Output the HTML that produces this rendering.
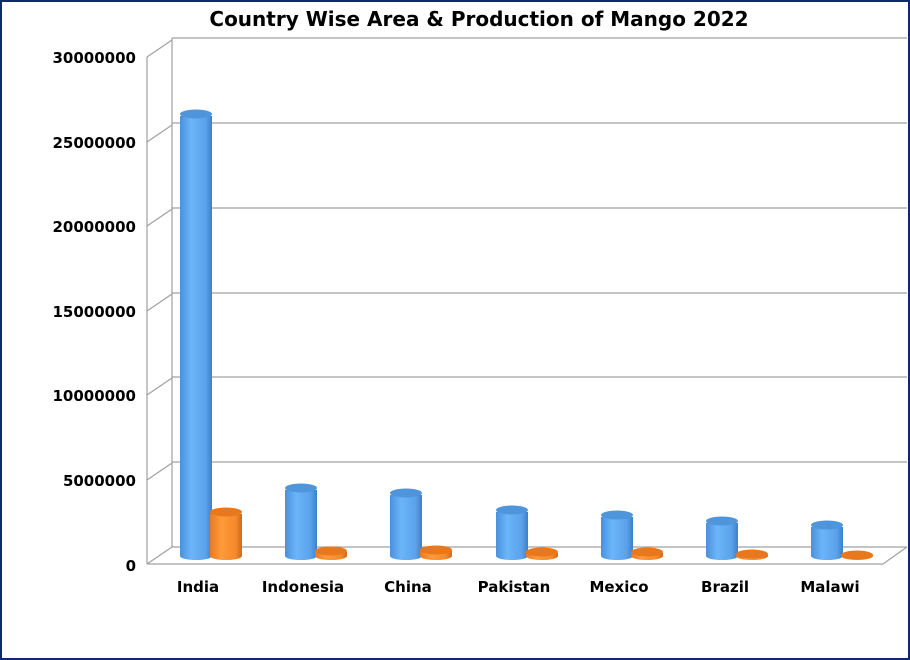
<!DOCTYPE html>
<html><head><style>
body{margin:0;background:#fff}
svg{display:block;font-family:"DejaVu Sans","Liberation Sans",sans-serif}
</style></head><body>
<svg width="910" height="660" viewBox="0 0 910 660">
<defs>
<linearGradient id="b" x1="0" x2="1"><stop offset="0" stop-color="#4a90dc"/><stop offset="0.35" stop-color="#6bb5fa"/><stop offset="0.8" stop-color="#5aa2ea"/><stop offset="1" stop-color="#3d7fc8"/></linearGradient>
<linearGradient id="o" x1="0" x2="1"><stop offset="0" stop-color="#e87a22"/><stop offset="0.35" stop-color="#ff9a3a"/><stop offset="0.8" stop-color="#f58a2c"/><stop offset="1" stop-color="#d0691a"/></linearGradient>
</defs>
<rect x="1" y="1" width="908" height="658" fill="#fff" stroke="#0e2a6b" stroke-width="2"/>
<text x="479" y="26" font-size="20" font-weight="bold" text-anchor="middle">Country Wise Area &amp; Production of Mango 2022</text>
<g stroke="#a0a0a0" stroke-width="1.2" fill="none">
<line x1="172" y1="38" x2="907" y2="38"/>
<line x1="172" y1="123" x2="907" y2="123"/>
<line x1="172" y1="208" x2="907" y2="208"/>
<line x1="172" y1="293" x2="907" y2="293"/>
<line x1="172" y1="377" x2="907" y2="377"/>
<line x1="172" y1="462" x2="907" y2="462"/>
<line x1="172" y1="547" x2="907" y2="547"/>
<line x1="172" y1="38" x2="172" y2="547"/>
<line x1="147" y1="57" x2="147" y2="564"/>
<line x1="147" y1="564" x2="883" y2="564"/>
<line x1="883" y1="564" x2="907" y2="547"/>
<line x1="147" y1="57" x2="172" y2="40"/>
<line x1="147" y1="142" x2="172" y2="125"/>
<line x1="147" y1="226" x2="172" y2="209"/>
<line x1="147" y1="311" x2="172" y2="294"/>
<line x1="147" y1="395" x2="172" y2="378"/>
<line x1="147" y1="480" x2="172" y2="463"/>
<line x1="147" y1="564" x2="172" y2="547"/>
</g>
<g font-size="15" font-weight="bold" text-anchor="end">
<text x="136" y="63">30000000</text>
<text x="136" y="148">25000000</text>
<text x="136" y="232">20000000</text>
<text x="136" y="317">15000000</text>
<text x="136" y="401">10000000</text>
<text x="136" y="486">5000000</text>
<text x="136" y="571">0</text>
</g>
<g id="bars">
<!-- blue -->
<path d="M180 116 V556 A16 4 0 0 0 212 556 V116 Z" fill="url(#b)"/><ellipse cx="196" cy="114" rx="16" ry="4.5" fill="#4f95dc"/>
<path d="M285 490 V556 A16 4 0 0 0 317 556 V490 Z" fill="url(#b)"/><ellipse cx="301" cy="488" rx="16" ry="4.5" fill="#4f95dc"/>
<path d="M390 495 V556 A16 4 0 0 0 422 556 V495 Z" fill="url(#b)"/><ellipse cx="406" cy="493" rx="16" ry="4.5" fill="#4f95dc"/>
<path d="M496 512 V556 A16 4 0 0 0 528 556 V512 Z" fill="url(#b)"/><ellipse cx="512" cy="510" rx="16" ry="4.5" fill="#4f95dc"/>
<path d="M601 517 V556 A16 4 0 0 0 633 556 V517 Z" fill="url(#b)"/><ellipse cx="617" cy="515" rx="16" ry="4.5" fill="#4f95dc"/>
<path d="M706 523 V556 A16 4 0 0 0 738 556 V523 Z" fill="url(#b)"/><ellipse cx="722" cy="521" rx="16" ry="4.5" fill="#4f95dc"/>
<path d="M811 527 V556 A16 4 0 0 0 843 556 V527 Z" fill="url(#b)"/><ellipse cx="827" cy="525" rx="16" ry="4.5" fill="#4f95dc"/>
<!-- orange -->
<path d="M210 514 V556 A16 4 0 0 0 242 556 V514 Z" fill="url(#o)"/><ellipse cx="226" cy="512" rx="16" ry="4.5" fill="#e8781e"/>
<path d="M315 552 V556 A16 4 0 0 0 347 556 V552 Z" fill="url(#o)"/><ellipse cx="331" cy="551" rx="16" ry="4.5" fill="#e8781e"/>
<path d="M420 551 V556 A16 4 0 0 0 452 556 V551 Z" fill="url(#o)"/><ellipse cx="436" cy="550" rx="16" ry="4.5" fill="#e8781e"/>
<path d="M526 553 V556 A16 4 0 0 0 558 556 V553 Z" fill="url(#o)"/><ellipse cx="542" cy="552" rx="16" ry="4.5" fill="#e8781e"/>
<path d="M631 553 V556 A16 4 0 0 0 663 556 V553 Z" fill="url(#o)"/><ellipse cx="647" cy="552" rx="16" ry="4.5" fill="#e8781e"/>
<path d="M736 555 V556 A16 4 0 0 0 768 556 V555 Z" fill="url(#o)"/><ellipse cx="752" cy="554" rx="16" ry="4.5" fill="#e8781e"/>
<path d="M841 555 V556 A16 4 0 0 0 873 556 V555 Z" fill="url(#o)"/><ellipse cx="857" cy="555" rx="16" ry="4.5" fill="#e8781e"/>
</g>
<g font-size="15" font-weight="bold" text-anchor="middle">
<text x="198" y="592">India</text>
<text x="303" y="592">Indonesia</text>
<text x="408" y="592">China</text>
<text x="514" y="592">Pakistan</text>
<text x="619" y="592">Mexico</text>
<text x="725" y="592">Brazil</text>
<text x="830" y="592">Malawi</text>
</g>
</svg>
</body></html>
